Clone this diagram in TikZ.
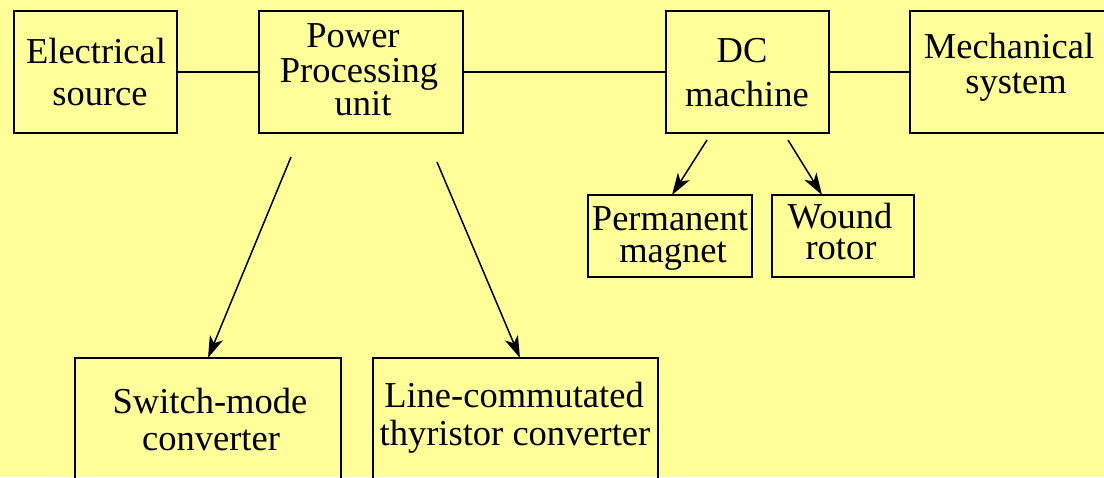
\documentclass[tikz,border=0pt]{standalone}
\usepackage{fontspec}
\setmainfont{Liberation Serif}
\usetikzlibrary{arrows.meta}
\definecolor{bgyellow}{RGB}{255,255,153}
\tikzset{
  box/.style={draw=black, line width=1.8pt, rectangle, inner sep=0pt, outer sep=0pt},
  txt/.style={anchor=base, inner sep=0pt, font=\fontsize{36.5}{40}\selectfont},
  conn/.style={line width=1.8pt},
  arr/.style={line width=1.5pt, -{Stealth[length=22pt,width=14pt,inset=6pt]}}
}
\begin{document}
\begin{tikzpicture}[x=1pt,y=-1pt]
\fill[bgyellow] (0,0) rectangle (1104,477);
\useasboundingbox (0,0) rectangle (1104,477);
\clip (0,0) rectangle (1104,477);
% boxes
\node[box, minimum width=163pt, minimum height=122pt] (es) at (95.5,72) {};
\node[box, minimum width=204pt, minimum height=122pt] (ppu) at (361,72) {};
\node[box, minimum width=163pt, minimum height=122pt] (dc) at (747.5,72) {};
\node[box, minimum width=202pt, minimum height=122pt] (ms) at (1011,72) {};
\node[box, minimum width=164pt, minimum height=82pt] (pm) at (670,236) {};
\node[box, minimum width=142pt, minimum height=82pt] (wr) at (843,236) {};
\node[box, minimum width=266pt, minimum height=160pt] (sw) at (208,438) {};
\node[box, minimum width=285pt, minimum height=160pt] (lc) at (515.5,438) {};
% texts
\node[txt] (t1) at (96,63) {Electrical};
\node[txt] (t2) at (100,105) {source};
\node[txt] (t3) at (353,47) {Power};
\node[txt] (t4) at (359,82) {Processing};
\node[txt] (t5) at (363,115) {unit};
\node[txt] (t6) at (742,62) {DC};
\node[txt] (t7) at (747,106) {machine};
\node[txt] (t8) at (1009,58) {Mechanical};
\node[txt] (t9) at (1016,93) {system};
\node[txt] (t10) at (670,230) {Permanent};
\node[txt] (t11) at (673,262) {magnet};
\node[txt] (t12) at (840,228) {Wound};
\node[txt] (t13) at (841,259) {rotor};
\node[txt] (t14) at (210,413) {Switch-mode};
\node[txt] (t15) at (211,450) {converter};
\node[txt] (t16) at (514,407) {Line-commutated};
\node[txt] (t17) at (515,445) {thyristor converter};
% connectors
\draw[conn] (es) -- (ppu);
\draw[conn] (ppu) -- (dc);
\draw[conn] (dc) -- (ms);
% arrow start points
\coordinate (a1) at (291,157);
\coordinate (a2) at (437,162);
\coordinate (a3) at (707,140);
\coordinate (a4) at (788,140);
\draw[arr] (a1) -- (sw.north);
\draw[arr] (a2) -- ([xshift=4.5pt]lc.north);
\draw[arr] (a3) -- ([xshift=2pt]pm.north);
\draw[arr] (a4) -- ([xshift=-21pt]wr.north);
\end{tikzpicture}
\end{document}
